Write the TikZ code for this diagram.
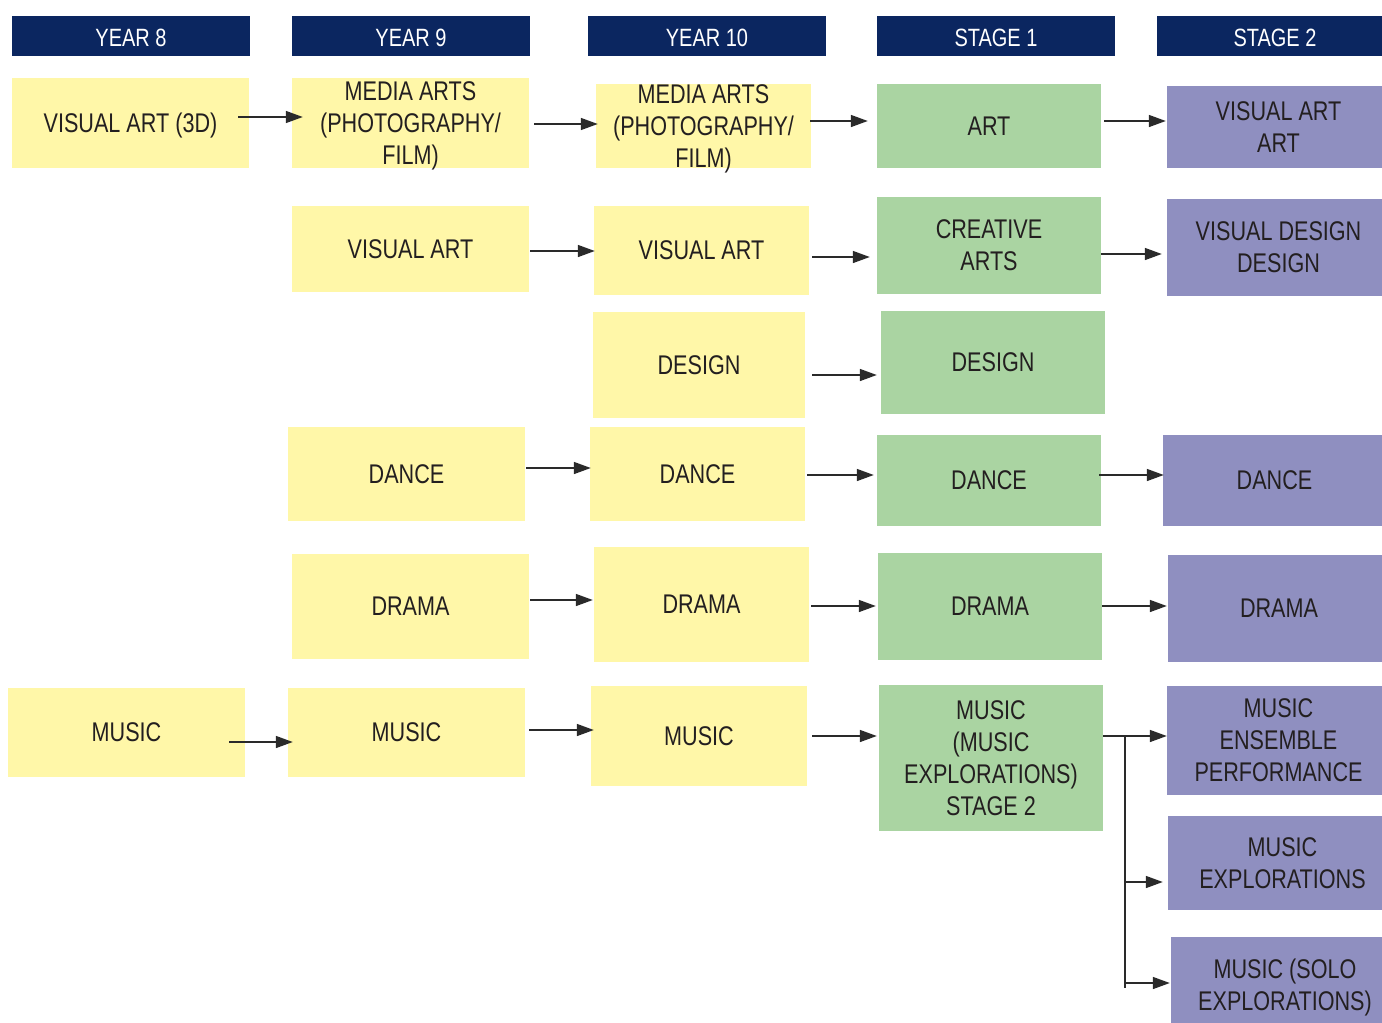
\documentclass[tikz,border=0pt]{standalone}
\usepackage{fontspec}
\setmainfont{Liberation Sans}[FakeStretch=0.8]
\usetikzlibrary{arrows.meta}
\definecolor{navy}{HTML}{0B2660}
\definecolor{ylw}{HTML}{FFF7A8}
\definecolor{grn}{HTML}{AAD4A2}
\definecolor{prp}{HTML}{8F8FC0}
\definecolor{ink}{HTML}{231F20}
\definecolor{lnc}{HTML}{2A2A2A}
\tikzset{
  hdr/.style={fill=navy,text=white,inner sep=0pt,minimum height=40pt,text height=20pt,text depth=0pt,font=\fontsize{25}{29}\selectfont},
  bx/.style={inner sep=0pt,align=center,text=ink,text depth=0pt,font=\fontsize{27}{32}\selectfont},
  ybox/.style={bx,fill=ylw},
  gbox/.style={bx,fill=grn},
  pbox/.style={bx,fill=prp},
  arr/.style={line width=1.5pt,draw=lnc,-{Triangle[length=17pt,width=12pt]}},
  ln/.style={line width=1.5pt,draw=lnc}
}
\begin{document}
\begin{tikzpicture}[x=1pt,y=-1pt]
\useasboundingbox (0,0) rectangle (1382,1023);
% headers
\node[hdr,minimum width=238pt] (h8) at (131,36) {YEAR 8};
\node[hdr,minimum width=238pt] (h9) at (411,36) {YEAR 9};
\node[hdr,minimum width=238pt] (h10) at (707,36) {YEAR 10};
\node[hdr,minimum width=238pt] (hs1) at (996,36) {STAGE 1};
\node[hdr,minimum width=236pt] (hs2) at (1275,36) {STAGE 2};
% row 1
\node[ybox,minimum width=237pt,minimum height=90pt] (a8) at (130.5,123) {VISUAL ART (3D)};
\node[ybox,minimum width=237pt,minimum height=90pt] (a9) at (410.5,123) {MEDIA ARTS\\(PHOTOGRAPHY/\\FILM)};
\node[ybox,minimum width=215pt,minimum height=84pt] (a10) at (703.5,126) {MEDIA ARTS\\(PHOTOGRAPHY/\\FILM)};
\node[gbox,minimum width=224pt,minimum height=84pt] (as1) at (989,126) {ART};
\node[pbox,minimum width=223pt,minimum height=82pt] (as2) at (1278.5,127) {VISUAL ART\\ART};
% row 2
\node[ybox,minimum width=237pt,minimum height=86pt] (b9) at (410.5,249) {VISUAL ART};
\node[ybox,minimum width=215pt,minimum height=89pt] (b10) at (701.5,250.5) {VISUAL ART};
\node[gbox,minimum width=224pt,minimum height=97pt] (bs1) at (989,245.5) {CREATIVE\\ARTS};
\node[pbox,minimum width=223pt,minimum height=97pt] (bs2) at (1278.5,247.5) {VISUAL DESIGN\\DESIGN};
% row 3
\node[ybox,minimum width=212pt,minimum height=106pt] (c10) at (699,365) {DESIGN};
\node[gbox,minimum width=224pt,minimum height=103pt] (cs1) at (993,362.5) {DESIGN};
% row 4
\node[ybox,minimum width=237pt,minimum height=94pt] (d9) at (406.5,474) {DANCE};
\node[ybox,minimum width=215pt,minimum height=94pt] (d10) at (697.5,474) {DANCE};
\node[gbox,minimum width=224pt,minimum height=91pt] (ds1) at (989,480.5) {DANCE};
\node[pbox,minimum width=223pt,minimum height=91pt] (ds2) at (1274.5,480.5) {DANCE};
% row 5
\node[ybox,minimum width=237pt,minimum height=105pt] (e9) at (410.5,606.5) {DRAMA};
\node[ybox,minimum width=215pt,minimum height=115pt] (e10) at (701.5,604.5) {DRAMA};
\node[gbox,minimum width=224pt,minimum height=107pt] (es1) at (990,606.5) {DRAMA};
\node[pbox,minimum width=222pt,minimum height=107pt] (es2) at (1279,608.5) {DRAMA};
% row 6
\node[ybox,minimum width=237pt,minimum height=89pt] (f8) at (126.5,732.5) {MUSIC};
\node[ybox,minimum width=237pt,minimum height=89pt] (f9) at (406.5,732.5) {MUSIC};
\node[ybox,minimum width=216pt,minimum height=100pt] (f10) at (699,736) {MUSIC};
\node[gbox,minimum width=224pt,minimum height=146pt] (fs1) at (991,758) {MUSIC\\(MUSIC\\EXPLORATIONS)\\STAGE 2};
\node[pbox,minimum width=223pt,minimum height=109pt] (g1) at (1278.5,740.5) {MUSIC\\ENSEMBLE\\PERFORMANCE};
\node[pbox,minimum width=229pt,minimum height=94pt] (g2) at (1282.5,863) {MUSIC\\EXPLORATIONS};
\node[pbox,minimum width=228pt,minimum height=96pt] (g3) at (1285,985) {MUSIC (SOLO\\EXPLORATIONS)};
% arrows
\draw[arr] ([shift={(-11,-6)}]a8.east) -- ([shift={(11,-6)}]a9.west);
\draw[arr] ([shift={(5,1)}]a9.east) -- ([shift={(2,-2)}]a10.west);
\draw[arr] ([shift={(-1,-5)}]a10.east) -- ([shift={(-9,-5)}]as1.west);
\draw[arr] ([shift={(3,-5)}]as1.east) -- ([shift={(-1,-6)}]as2.west);
\draw[arr] ([shift={(1,2)}]b9.east) -- ([shift={(1,0.5)}]b10.west);
\draw[arr] ([shift={(3,6.5)}]b10.east) -- ([shift={(-7,11.5)}]bs1.west);
\draw[arr] ([shift={(0,8.5)}]bs1.east) -- ([shift={(-5,6.5)}]bs2.west);
\draw[arr] ([shift={(7,10)}]c10.east) -- ([shift={(-4,12.5)}]cs1.west);
\draw[arr] ([shift={(1,-6)}]d9.east) -- ([shift={(1,-6)}]d10.west);
\draw[arr] ([shift={(2,1)}]d10.east) -- ([shift={(-3,-5.5)}]ds1.west);
\draw[arr] ([shift={(-2,-5.5)}]ds1.east) -- ([shift={(1,-5.5)}]ds2.west);
\draw[arr] ([shift={(1,-6.5)}]e9.east) -- ([shift={(-1,-4.5)}]e10.west);
\draw[arr] ([shift={(2,1.5)}]e10.east) -- ([shift={(-2,-0.5)}]es1.west);
\draw[arr] ([shift={(0,-0.5)}]es1.east) -- ([shift={(-1,-2.5)}]es2.west);
\draw[arr] ([shift={(-16,9.5)}]f8.east) -- ([shift={(5,9.5)}]f9.west);
\draw[arr] ([shift={(4,-2.5)}]f9.east) -- ([shift={(3,-6)}]f10.west);
\draw[arr] ([shift={(5,0)}]f10.east) -- ([shift={(-2,-22)}]fs1.west);
\draw[arr] ([shift={(0,-22)}]fs1.east) -- ([shift={(0,-4.5)}]g1.west);
\coordinate (j) at ([shift={(22,-22)}]fs1.east);
\coordinate (k2) at ([shift={(-5,19)}]g2.west);
\coordinate (k3) at ([shift={(-1,-2)}]g3.west);
\draw[ln] (j) -- (k3 -| j) -- ++(0,5);
\draw[arr] (k2 -| j) -- (k2);
\draw[arr] (k3 -| j) -- (k3);
\end{tikzpicture}
\end{document}
